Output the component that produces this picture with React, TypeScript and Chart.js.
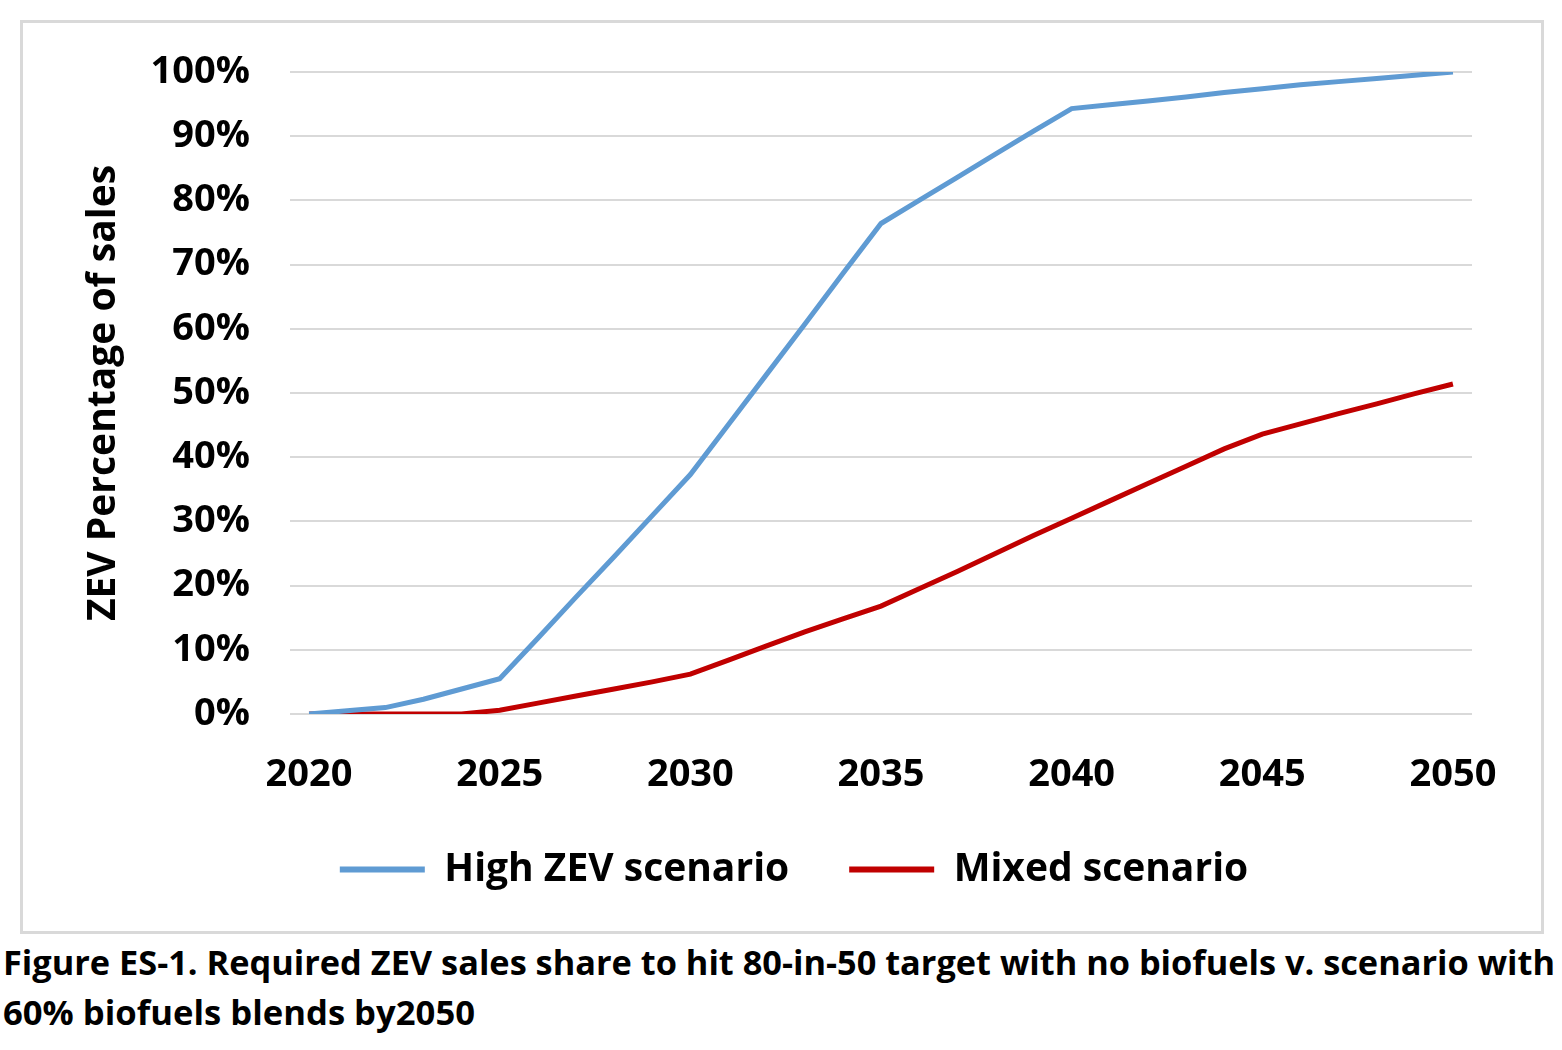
import React, { useEffect, useRef } from "react";
import { Chart, registerables } from "chart.js";

Chart.register(...registerables);

const years = [
  "2020", "2021", "2022", "2023", "2024", "2025", "2026", "2027", "2028", "2029",
  "2030", "2031", "2032", "2033", "2034", "2035", "2036", "2037", "2038", "2039",
  "2040", "2041", "2042", "2043", "2044", "2045", "2046", "2047", "2048", "2049",
  "2050",
];
const labeledYears = ["2020", "2025", "2030", "2035", "2040", "2045", "2050"];

const highZev = [
  0, 0.5, 1, 2.3, 3.9, 5.5, 11.8, 18.2, 24.5, 30.9,
  37.3, 45.1, 52.9, 60.7, 68.6, 76.4, 80.0, 83.6, 87.2, 90.8,
  94.3, 94.9, 95.5, 96.1, 96.8, 97.4, 98.0, 98.5, 99.0, 99.5,
  100,
];
const mixed = [
  0, 0, 0, 0, 0, 0.6, 1.7, 2.8, 3.9, 5.0,
  6.2, 8.4, 10.6, 12.8, 14.8, 16.8, 19.5, 22.2, 25.0, 27.8,
  30.5, 33.2, 35.9, 38.6, 41.3, 43.6, 45.2, 46.8, 48.3, 49.9,
  51.4,
];

const seriesNames = ["High ZEV scenario", "Mixed scenario"];
const seriesColors = ["#5f9bd3", "#c00000"];
const yTitle = "ZEV Percentage of sales";
const captionLines = [
  "Figure ES-1. Required ZEV sales share to hit 80-in-50 target with no biofuels v. scenario with",
  "60% biofuels blends by2050",
];
const captionWidths = [1552, 472];

const FONT = "'Open Sans', 'DejaVu Sans', sans-serif";

const legendShift = {
  id: "legendShift",
  afterLayout(chart: any) {
    const lg = chart.legend;
    if (lg) {
      lg.left += 47;
      lg.right += 47;
      if (lg.adjustHitBoxes) lg.adjustHitBoxes();
    }
  },
};

export default function App() {
  const canvasRef = useRef<HTMLCanvasElement | null>(null);
  const capRefs = useRef<(HTMLSpanElement | null)[]>([]);

  useEffect(() => {
    const canvas = canvasRef.current;
    if (!canvas) return;
    const chart = new Chart(canvas, {
      type: "line",
      data: {
        labels: years,
        datasets: [
          {
            label: seriesNames[0],
            data: highZev,
            borderColor: seriesColors[0],
            backgroundColor: seriesColors[0],
            borderWidth: 5,
            pointRadius: 0,
            tension: 0,
          },
          {
            label: seriesNames[1],
            data: mixed,
            borderColor: seriesColors[1],
            backgroundColor: seriesColors[1],
            borderWidth: 5,
            pointRadius: 0,
            tension: 0,
          },
        ],
      },
      plugins: [legendShift],
      options: {
        responsive: false,
        animation: false,
        layout: { padding: { left: 0, right: 68, top: 50, bottom: 31 } },
        plugins: {
          tooltip: { enabled: false },
          legend: {
            position: "bottom",
            labels: {
              boxWidth: 85,
              boxHeight: 6,
              padding: 60,
              color: "#000",
              font: { family: FONT, weight: "bold", size: 39 },
              generateLabels: (ch: any) =>
                ch.data.datasets.map((ds: any, i: number) => ({
                  text: ds.label,
                  fillStyle: ds.borderColor,
                  strokeStyle: ds.borderColor,
                  lineWidth: 0,
                  hidden: false,
                  datasetIndex: i,
                  fontColor: "#000",
                })),
            },
          },
        },
        scales: {
          x: {
            type: "category",
            offset: true,
            grid: { display: false, drawTicks: false },
            border: { display: false },
            ticks: {
              autoSkip: false,
              maxRotation: 0,
              padding: 38,
              color: "#000",
              font: { family: FONT, weight: "bold", size: 38 },
              callback: function (this: any, value: any) {
                const lab = this.getLabelForValue(value);
                return labeledYears.includes(lab) ? lab : "";
              },
            },
            afterFit: (scale: any) => {
              scale.height = 76;
            },
          },
          y: {
            min: 0,
            max: 100,
            grid: { color: "#d9d9d9", lineWidth: 2, drawTicks: false },
            border: { display: false },
            ticks: {
              stepSize: 10,
              padding: 40,
              color: "#000",
              font: { family: FONT, weight: "bold", size: 38 },
              callback: (v: any) => v + "%",
            },
            title: {
              display: true,
              text: yTitle,
              color: "#000",
              font: { family: FONT, weight: "bold", size: 39 },
              padding: { top: 58, bottom: 0 },
            },
            afterFit: (scale: any) => {
              scale.width = 268;
              scale.paddingTop = 0;
              scale.paddingBottom = 0;
            },
          },
        },
      },
    });

    capRefs.current.forEach((el, i) => {
      if (!el) return;
      el.style.transform = "none";
      const w = el.getBoundingClientRect().width;
      if (w > 0) el.style.transform = `scaleX(${captionWidths[i] / w})`;
    });

    return () => chart.destroy();
  }, []);

  return (
    <div
      style={{
        position: "absolute",
        left: 0,
        top: 0,
        width: 1562,
        height: 1050,
        background: "#fff",
        overflow: "hidden",
      }}
    >
      <div
        style={{
          position: "absolute",
          left: 20,
          top: 20,
          width: 1524,
          height: 914,
          boxSizing: "border-box",
          border: "3px solid #d9d9d9",
        }}
      />
      <div style={{ position: "absolute", left: 22, top: 22, width: 1518, height: 908 }}>
        <canvas ref={canvasRef} width={1518} height={908} style={{ width: 1518, height: 908 }} />
      </div>
      <div
        style={{
          position: "absolute",
          left: 3,
          top: 937,
          fontFamily: FONT,
          fontWeight: "bold",
          fontSize: 34,
          lineHeight: "50px",
          color: "#000",
          whiteSpace: "nowrap",
        }}
      >
        {captionLines.map((t, i) => (
          <div key={i}>
            <span
              ref={(el) => {
                capRefs.current[i] = el;
              }}
              style={{ display: "inline-block", transformOrigin: "left center" }}
            >
              {t}
            </span>
          </div>
        ))}
      </div>
    </div>
  );
}
